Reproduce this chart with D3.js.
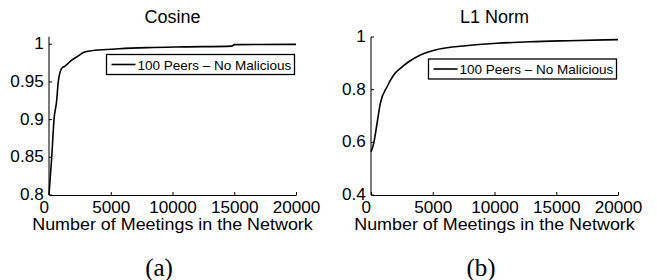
<!DOCTYPE html>
<html>
<head>
<meta charset="utf-8">
<script src="https://cdn.jsdelivr.net/npm/d3@7"></script>
<style>
  body { margin: 0; background: #fff; }
  text { font-family: "Liberation Sans", Arial, Helvetica, sans-serif; fill: #000; }
</style>
</head>
<body>
<svg width="657" height="280"></svg>
<script>
// values
var titles = ["Cosine", "L1 Norm"];
var captions = ["(a)", "(b)"];
var seriesName = "100 Peers \u2013 No Malicious";
var xLabel = "Number of Meetings in the Network";
var xTicks = [0, 5000, 10000, 15000, 20000];
var cosineTicks = [0.8, 0.85, 0.9, 0.95, 1];
var l1Ticks = [0.4, 0.6, 0.8, 1];

var cosineX = [0, 220, 405, 620, 750, 1025, 1300, 1840, 2375, 2780, 3320, 4670, 5670, 8000, 11000, 14800, 15000, 20000];
var cosineY = [0.8, 0.85, 0.9, 0.925, 0.95, 0.968, 0.971, 0.979, 0.9845, 0.989, 0.991, 0.993, 0.994, 0.9955, 0.9965, 0.9975, 0.9995, 0.9998];

var l1X = [0, 220, 490, 755, 1300, 1840, 2380, 3050, 4000, 5200, 6560, 7480, 10180, 12880, 16000, 20000];
var l1Y = [0.564, 0.596, 0.672, 0.748, 0.811, 0.856, 0.881, 0.906, 0.932, 0.951, 0.962, 0.966, 0.976, 0.982, 0.986, 0.99];

var svg = d3.select("svg");

var panels = [
    { title: titles[0], caption: captions[0], xs: cosineX, ys: cosineY, ticks: cosineTicks,
      yDomain: [0.8, 1.01], left: 49, top: 36.7, legendTop: 54.5 },
    { title: titles[1], caption: captions[1], xs: l1X, ys: l1Y, ticks: l1Ticks,
      yDomain: [0.4, 1], left: 371, top: 37, legendTop: 59 }
];

var plotW = 247, bottom = 195;

panels.forEach(function(p) {
    var x = d3.scaleLinear().domain([0, 20000]).range([p.left, p.left + plotW]);
    var y = d3.scaleLinear().domain(p.yDomain).range([bottom, p.top]);

    // y axis: ticks point inward, line comes out grey like in the scan
    var gy = svg.append("g")
        .attr("transform", "translate(" + p.left + ",0)")
        .call(d3.axisLeft(y).tickValues(p.ticks).tickFormat(function(d) { return String(d); })
            .tickSizeInner(-3).tickSizeOuter(0).tickPadding(5).offset(0));
    gy.select(".domain").attr("stroke", "#7a7a7a").attr("stroke-width", 2);
    gy.selectAll("text").attr("font-size", 16).attr("transform", "scale(1.07,1)")
        .style("font-family", "Liberation Sans, Arial, sans-serif");

    var gx = svg.append("g")
        .attr("transform", "translate(0," + bottom + ")")
        .call(d3.axisBottom(x).tickValues(xTicks).tickFormat(function(d) { return String(d); })
            .tickSizeInner(-3).tickSizeOuter(0).tickPadding(7));
    gx.selectAll("text").attr("font-size", 16)
        .attr("transform", "scale(1.07,1)")
        .style("font-family", "Liberation Sans, Arial, sans-serif")
        .attr("dx", function(d) { return d === 0 ? -5 : 0; });

    var line = d3.line()
        .x(function(d, i) { return x(p.xs[i]); })
        .y(function(d) { return y(d); })
        .curve(d3.curveMonotoneX);

    svg.append("path")
        .datum(p.ys)
        .attr("fill", "none")
        .attr("stroke", "#000")
        .attr("stroke-width", 1.6)
        .attr("d", line);

    var cx = p.left + plotW / 2;

    svg.append("text")
        .attr("x", cx).attr("y", 22.5)
        .attr("text-anchor", "middle")
        .attr("font-size", 18)
        .text(p.title);

    svg.append("text")
        .attr("transform", "translate(" + cx + ",230) scale(1.12,1)")
        .attr("text-anchor", "middle")
        .attr("font-size", 16)
        .text(xLabel);

    svg.append("text")
        .attr("x", cx - 13.5).attr("y", 276)
        .attr("text-anchor", "middle")
        .attr("font-size", 25)
        .style("font-family", "Liberation Serif, Times New Roman, serif")
        .text(p.caption);

    // legend
    var lx = p.left + 57.5;
    var lg = svg.append("g").attr("transform", "translate(" + lx + "," + p.legendTop + ")");
    lg.append("rect")
        .attr("width", 188).attr("height", 20)
        .attr("fill", "#fff").attr("stroke", "#000").attr("stroke-width", 1.3);
    lg.append("line")
        .attr("x1", 5).attr("x2", 29).attr("y1", 10).attr("y2", 10)
        .attr("stroke", "#000").attr("stroke-width", 1.6);
    lg.append("text")
        .attr("x", 31).attr("y", 15)
        .attr("font-size", 13.5)
        .text(seriesName);
});
</script>
</body>
</html>
